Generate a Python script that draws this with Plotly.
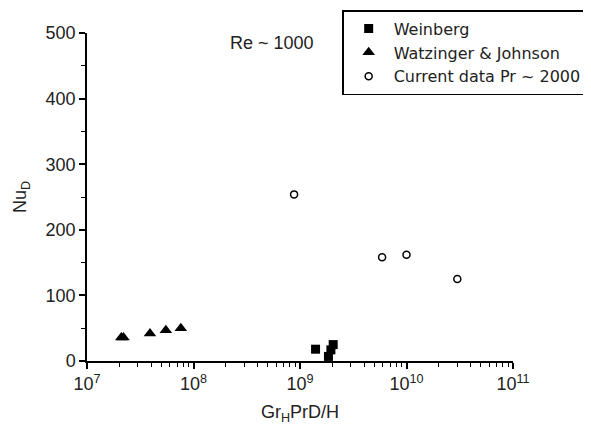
import plotly.graph_objects as go

# Data
weinberg_x = [1.4e9, 1.85e9, 1.95e9, 2.05e9]
weinberg_nu = [18, 7, 17, 25]

watz_x = [2.1e7, 2.2e7, 3.9e7, 5.5e7, 7.6e7]
watz_nu = [36, 36, 42, 47, 50]

current_x = [8.8e8, 5.9e9, 1.0e10, 3.0e10]
current_nu = [254, 158, 162, 125]

x_tickvals = [1e7, 1e8, 1e9, 1e10, 1e11]
x_ticktext = ["10<sup>7</sup>", "10<sup>8</sup>", "10<sup>9</sup>", "10<sup>10</sup>", "10<sup>11</sup>"]
x_minor = [m * 10 ** e for e in range(7, 11) for m in range(2, 10)]
y_tickvals = [0, 100, 200, 300, 400, 500]
y_minor = [50, 150, 250, 350, 450]

font = "Liberation Sans, Arial, sans-serif"
txt = "#222222"

fig = go.Figure()
fig.add_trace(go.Scatter(x=weinberg_x, y=weinberg_nu, mode="markers", name="Weinberg",
                         legendgroup="a",
                         marker=dict(symbol="square", size=9, color="black")))
fig.add_trace(go.Scatter(x=watz_x, y=watz_nu, mode="markers", name="Watzinger & Johnson",
                         legendgroup="b",
                         marker=dict(symbol="triangle-up", size=11, color="black")))
fig.add_trace(go.Scatter(x=current_x, y=current_nu, mode="markers", name="Current data Pr ~ 2000",
                         legendgroup="c",
                         marker=dict(symbol="circle-open", size=7, color="black", line=dict(width=1.5))))

fig.update_layout(
    width=591, height=428,
    margin=dict(l=79, r=86, t=25, b=75, autoexpand=False),
    paper_bgcolor="white", plot_bgcolor="white",
    font=dict(family=font, size=18, color=txt),
    showlegend=True,
    legend=dict(xref="container", yref="container", x=0.98, xanchor="right", y=0.995, yanchor="top",
                bordercolor="black", borderwidth=1.5, bgcolor="white",
                font=dict(family="DejaVu Sans, Liberation Sans, sans-serif", size=16, color=txt),
                itemwidth=40, tracegroupgap=0),
    annotations=[dict(text="Re ~ 1000", x=0.331, xanchor="left", y=0.97, yanchor="middle",
                      xref="paper", yref="paper", showarrow=False,
                      font=dict(size=18, color=txt))],
)
fig.update_xaxes(type="log", range=[7, 11], tickvals=x_tickvals, ticktext=x_ticktext,
                 showline=True, linecolor="black", linewidth=1.5, mirror=False,
                 ticks="outside", ticklen=6, tickwidth=1.5, tickcolor="black",
                 showgrid=False, zeroline=False,
                 minor=dict(ticks="outside", ticklen=4, tickwidth=1, tickcolor="black",
                            tickvals=x_minor, showgrid=False),
                 tickfont=dict(size=18, color=txt),
                 title=dict(text="Gr<sub>H</sub>PrD/H", font=dict(size=18, color=txt), standoff=12))
fig.update_yaxes(range=[0, 500], tickvals=y_tickvals,
                 showline=True, linecolor="black", linewidth=1.5, mirror=False,
                 ticks="outside", ticklen=6, tickwidth=1.5, tickcolor="black",
                 showgrid=False, zeroline=False,
                 minor=dict(ticks="outside", ticklen=4, tickwidth=1, tickcolor="black",
                            tickvals=y_minor, showgrid=False),
                 tickfont=dict(size=18, color=txt),
                 title=dict(text="Nu<sub>D</sub>", font=dict(size=18, color=txt), standoff=14))

fig.write_html("out.html")
